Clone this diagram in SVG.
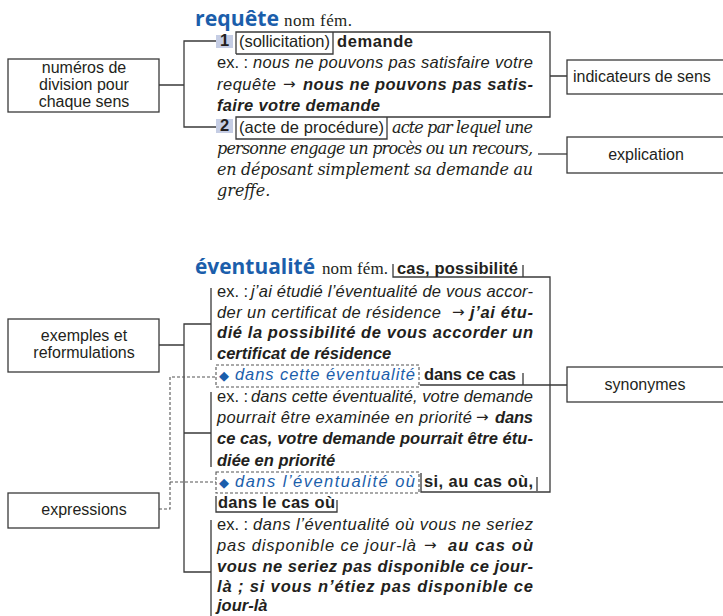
<svg xmlns="http://www.w3.org/2000/svg" width="723" height="616" viewBox="0 0 723 616">
<defs>
<style>
.t{font-family:"Liberation Sans",Arial,sans-serif;font-size:16.5px;fill:#231f20}
.i{font-style:italic}
.b{font-weight:bold}
.bl{fill:#1b5eab}
.hw{font-family:"Open Sans","Liberation Sans",sans-serif;font-weight:bold;font-size:22px;fill:#1b5eab}
.nf{font-family:"Liberation Serif","Times New Roman",serif;font-size:17px;fill:#231f20}
.se{font-family:"DejaVu Serif","Liberation Serif",serif;font-style:italic;font-size:16px;fill:#231f20}
.ar{font-family:"DejaVu Sans",sans-serif;font-size:15px;fill:#231f20}
.dm{font-family:"DejaVu Sans",sans-serif;font-size:13px;fill:#1b5eab}
.lb{font-family:"Liberation Sans",Arial,sans-serif;font-size:16px;fill:#231f20}
.box{fill:#fff;stroke:#3a3a3a;stroke-width:1.3}
.ln{fill:none;stroke:#3a3a3a;stroke-width:1.3}
.dl{fill:none;stroke:#555;stroke-width:1.1;stroke-dasharray:3 2}
.nb{fill:#c5cde4}
</style>
</defs>
<rect width="723" height="616" fill="#fff"/>

<g id="connectors">
<path class="ln" d="M159,85 H184 M216,41 H184 V127 H216"/>
<path class="ln" d="M236,54 V32 H550 V117 H236 V139 H387 V117 M333,32 V54 H236 M550,76 H567"/>
<path class="ln" d="M538,154 H567"/>
<path class="ln" d="M159,345 H184 M211,324 H184 V572 H211 M184,433 H211 M211,288 V360 M211,392 V467 M211,520 V616"/>
<path class="ln" d="M393,264 V277 H550 V492 H421 V473 M523,265 V277 M420,385 H567 M523,373 V385 M537,477 V491 M216,496 V512 H337 V500"/>
<path class="dl" d="M159,509 H170 V377 H216 M170,482 H216"/>
<rect class="dl" x="216" y="365" width="203" height="22"/>
<rect class="dl" x="216" y="472" width="203" height="21"/>
</g>

<g id="node-numeros">
<rect class="box" x="8" y="59" width="151" height="53"/>
<text class="lb" text-anchor="middle"><tspan x="84" y="73">numéros de</tspan><tspan x="84" y="90">division pour</tspan><tspan x="84" y="107">chaque sens</tspan></text>
</g>
<g id="node-indicateurs">
<rect class="box" x="567" y="60" width="160" height="34"/>
<text class="lb" x="573" y="82">indicateurs de sens</text>
</g>
<g id="node-explication">
<rect class="box" x="567" y="137" width="160" height="36"/>
<text class="lb" x="646" y="160" text-anchor="middle">explication</text>
</g>
<g id="node-exemples">
<rect class="box" x="8" y="319" width="151" height="53"/>
<text class="lb" text-anchor="middle"><tspan x="84" y="341">exemples et</tspan><tspan x="84" y="358">reformulations</tspan></text>
</g>
<g id="node-synonymes">
<rect class="box" x="567" y="367" width="160" height="35"/>
<text class="lb" x="645" y="390" text-anchor="middle">synonymes</text>
</g>
<g id="node-expressions">
<rect class="box" x="8" y="493" width="151" height="35"/>
<text class="lb" x="84" y="515" text-anchor="middle">expressions</text>
</g>

<g id="entry-requete">
<text class="hw" x="195" y="26" textLength="84" lengthAdjust="spacingAndGlyphs">requête</text>
<text class="nf" x="284" y="26" textLength="68">nom fém.</text>
<rect class="nb" x="216" y="35" width="17" height="13"/>
<text class="t b" x="224.5" y="46" text-anchor="middle" font-size="14">1</text>
<text class="t" x="239" y="47" textLength="91">(sollicitation)</text>
<text class="t b" x="337" y="47" textLength="76">demande</text>
<text class="t" x="217" y="68">ex. :</text>
<text class="t i" x="253" y="68" textLength="280">nous ne pouvons pas satisfaire votre</text>
<text class="t i" x="217" y="90" textLength="59">requête</text>
<text class="ar" x="283" y="89">→</text>
<text class="t b i" x="303" y="90" textLength="230">nous ne pouvons pas satis-</text>
<text class="t b i" x="217" y="111" textLength="163">faire votre demande</text>
<rect class="nb" x="216" y="119" width="17" height="14"/>
<text class="t b" x="224.5" y="131" text-anchor="middle" font-size="14">2</text>
<text class="t" x="239" y="133" textLength="145">(acte de procédure)</text>
<text class="se" x="392" y="133" textLength="141">acte par lequel une</text>
<text class="se" x="217" y="154" textLength="316">personne engage un procès ou un recours,</text>
<text class="se" x="217" y="175" textLength="316">en déposant simplement sa demande au</text>
<text class="se" x="217" y="196">greffe.</text>
</g>

<g id="entry-eventualite">
<text class="hw" x="195" y="274" textLength="120" lengthAdjust="spacingAndGlyphs">éventualité</text>
<text class="nf" x="322" y="274" textLength="66">nom fém.</text>
<text class="t b" x="397" y="274" textLength="121">cas, possibilité</text>
<text class="t" x="217" y="297">ex. :</text>
<text class="t i" x="251" y="297" textLength="282">j’ai étudié l’éventualité de vous accor-</text>
<text class="t i" x="217" y="318" textLength="224">der un certificat de résidence</text>
<text class="ar" x="452" y="317">→</text>
<text class="t b i" x="470" y="318" textLength="63">j’ai étu-</text>
<text class="t b i" x="217" y="338" textLength="316">dié la possibilité de vous accorder un</text>
<text class="t b i" x="217" y="359">certificat de résidence</text>
<text class="dm" x="219" y="380">◆</text>
<text class="t i bl" x="235" y="380" textLength="180">dans cette éventualité</text>
<text class="t b" x="424" y="380" textLength="92">dans ce cas</text>
<text class="t" x="217" y="402">ex. :</text>
<text class="t i" x="251" y="402" textLength="282">dans cette éventualité, votre demande</text>
<text class="t i" x="217" y="423" textLength="255">pourrait être examinée en priorité</text>
<text class="ar" x="476" y="422">→</text>
<text class="t b i" x="495" y="423" textLength="38">dans</text>
<text class="t b i" x="217" y="444" textLength="316">ce cas, votre demande pourrait être étu-</text>
<text class="t b i" x="217" y="466">diée en priorité</text>
<text class="dm" x="219" y="487">◆</text>
<text class="t i bl" x="235" y="487" textLength="180">dans l’éventualité où</text>
<text class="t b" x="424" y="487" textLength="109">si, au cas où,</text>
<text class="t b" x="218" y="508" textLength="117">dans le cas où</text>
<text class="t" x="217" y="530">ex. :</text>
<text class="t i" x="253" y="530" textLength="280">dans l’éventualité où vous ne seriez</text>
<text class="t i" x="217" y="551" textLength="199">pas disponible ce jour-là</text>
<text class="ar" x="424" y="550">→</text>
<text class="t b i" x="448" y="551" textLength="85">au cas où</text>
<text class="t b i" x="217" y="572" textLength="316">vous ne seriez pas disponible ce jour-</text>
<text class="t b i" x="217" y="592" textLength="316">là ; si vous n’étiez pas disponible ce</text>
<text class="t b i" x="217" y="611">jour-là</text>
</g>
</svg>
